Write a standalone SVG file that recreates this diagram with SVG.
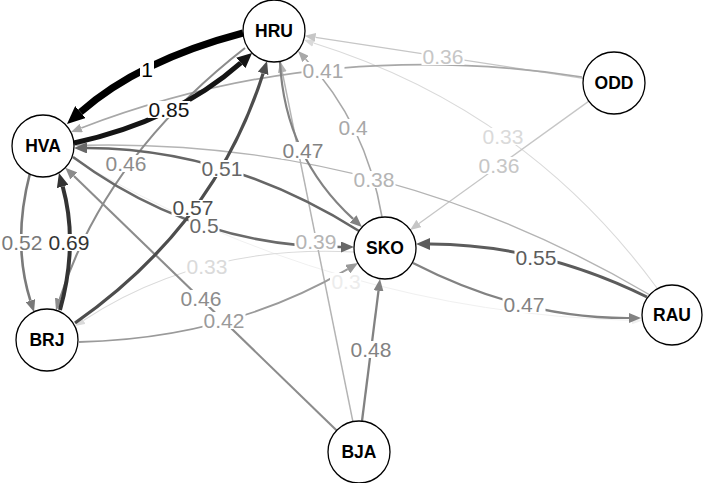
<svg xmlns="http://www.w3.org/2000/svg" width="709" height="483" viewBox="0 0 709 483">
<style>
.e{fill:none;stroke-linecap:butt}
.lbl{font-family:"Liberation Sans",Arial,sans-serif;font-size:21px;text-anchor:middle}
.bg{fill:#fff}
.node circle{fill:#fff;stroke:#000;stroke-width:1.3}
.node text{font-family:"Liberation Sans",Arial,sans-serif;font-size:17.5px;font-weight:bold;text-anchor:middle;fill:#000}
</style>
<defs>
<marker id="a1" markerUnits="userSpaceOnUse" markerWidth="18" markerHeight="16" refX="0" refY="8" orient="auto"><path d="M0,0L18,8L0,16z" fill="#000"/></marker>
<marker id="a085" markerUnits="userSpaceOnUse" markerWidth="15" markerHeight="14" refX="0" refY="7" orient="auto"><path d="M0,0L15,7L0,14z" fill="#141414"/></marker>
<marker id="a069" markerUnits="userSpaceOnUse" markerWidth="14" markerHeight="12" refX="0" refY="6" orient="auto"><path d="M0,0L14,6L0,12z" fill="#333"/></marker>
<marker id="a057" markerUnits="userSpaceOnUse" markerWidth="13" markerHeight="11" refX="0" refY="5.5" orient="auto"><path d="M0,0L13,5.5L0,11z" fill="#4d4d4d"/></marker>
<marker id="a055" markerUnits="userSpaceOnUse" markerWidth="14" markerHeight="12" refX="0" refY="6" orient="auto"><path d="M0,0L14,6L0,12z" fill="#5c5c5c"/></marker>
<marker id="a051" markerUnits="userSpaceOnUse" markerWidth="13" markerHeight="11" refX="0" refY="5.5" orient="auto"><path d="M0,0L13,5.5L0,11z" fill="#686868"/></marker>
<marker id="a052" markerUnits="userSpaceOnUse" markerWidth="12" markerHeight="10" refX="0" refY="5" orient="auto"><path d="M0,0L12,5L0,10z" fill="#7a7a7a"/></marker>
<marker id="a047" markerUnits="userSpaceOnUse" markerWidth="12" markerHeight="10" refX="0" refY="5" orient="auto"><path d="M0,0L12,5L0,10z" fill="#828282"/></marker>
<marker id="a046" markerUnits="userSpaceOnUse" markerWidth="12" markerHeight="10" refX="0" refY="5" orient="auto"><path d="M0,0L12,5L0,10z" fill="#8c8c8c"/></marker>
<marker id="a042" markerUnits="userSpaceOnUse" markerWidth="12" markerHeight="10" refX="0" refY="5" orient="auto"><path d="M0,0L12,5L0,10z" fill="#9a9a9a"/></marker>
<marker id="a041" markerUnits="userSpaceOnUse" markerWidth="11" markerHeight="9" refX="0" refY="4.5" orient="auto"><path d="M0,0L11,4.5L0,9z" fill="#a8a8a8"/></marker>
<marker id="a039" markerUnits="userSpaceOnUse" markerWidth="11" markerHeight="9" refX="0" refY="4.5" orient="auto"><path d="M0,0L11,4.5L0,9z" fill="#b4b4b4"/></marker>
<marker id="a036" markerUnits="userSpaceOnUse" markerWidth="11" markerHeight="9" refX="0" refY="4.5" orient="auto"><path d="M0,0L11,4.5L0,9z" fill="#c6c6c6"/></marker>
<marker id="a033" markerUnits="userSpaceOnUse" markerWidth="10" markerHeight="8" refX="0" refY="4" orient="auto"><path d="M0,0L10,4L0,8z" fill="#dadada"/></marker>
<marker id="a030" markerUnits="userSpaceOnUse" markerWidth="10" markerHeight="8" refX="0" refY="4" orient="auto"><path d="M0,0L10,4L0,8z" fill="#f0f0f0"/></marker>
</defs>
<rect width="709" height="483" fill="#fff"/>
<g id="connectors">
<path class="e" d="M72,158 Q335,313 632,320.4" stroke="#f0f0f0" stroke-width="1" marker-end="url(#a030)"/>
<path class="e" d="M354,252 Q199.5,244 83.4,320.5" stroke="#dadada" stroke-width="1.1" marker-end="url(#a033)"/>
<path class="e" d="M657,288 Q525.5,109 313.5,43" stroke="#dadada" stroke-width="1.1" marker-end="url(#a033)"/>
<path class="e" d="M588.9,101.1 L419,223.5" stroke="#c6c6c6" stroke-width="1.3" marker-end="url(#a036)"/>
<path class="e" d="M583.4,78.3 L315.5,37.4" stroke="#c6c6c6" stroke-width="1.3" marker-end="url(#a036)"/>
<path class="e" d="M650,295 Q385.5,139 86,145.2" stroke="#b4b4b4" stroke-width="1.4" marker-end="url(#a039)"/>
<path class="e" d="M352.9,421.6 L282.3,72.2" stroke="#b4b4b4" stroke-width="1.5" marker-end="url(#a039)"/>
<path class="e" d="M582,77 Q319.5,36.5 81.3,128" stroke="#a8a8a8" stroke-width="1.7" marker-end="url(#a041)"/>
<path class="e" d="M382,217 Q366,123 305.6,59" stroke="#a8a8a8" stroke-width="1.6" marker-end="url(#a041)"/>
<path class="e" d="M79,342 Q229.5,338.5 347.7,269.1" stroke="#9a9a9a" stroke-width="1.8" marker-end="url(#a042)"/>
<path class="e" d="M336.7,430.4 L73.9,176" stroke="#8c8c8c" stroke-width="2.1" marker-end="url(#a046)"/>
<path class="e" d="M245,48 Q105.5,156.75 59.7,299.1" stroke="#8c8c8c" stroke-width="2.1" marker-end="url(#a046)"/>
<path class="e" d="M362,421 L378.5,290.9" stroke="#828282" stroke-width="2.3" marker-end="url(#a047)"/>
<path class="e" d="M413,263 Q521,318.5 629,318" stroke="#828282" stroke-width="2.2" marker-end="url(#a047)"/>
<path class="e" d="M280,62 Q285,156.5 353.1,218.9" stroke="#828282" stroke-width="2.2" marker-end="url(#a047)"/>
<path class="e" d="M30,173 Q12,242.5 30.4,300.6" stroke="#7a7a7a" stroke-width="2.6" marker-end="url(#a052)"/>
<path class="e" d="M73,157 Q194.5,247 341,247" stroke="#6a6a6a" stroke-width="2.5" marker-end="url(#a051)"/>
<path class="e" d="M359,231 Q227.5,148.5 87,148" stroke="#666" stroke-width="2.6" marker-end="url(#a051)"/>
<path class="e" d="M647,297 Q540.5,244.5 430,244" stroke="#5c5c5c" stroke-width="3" marker-end="url(#a055)"/>
<path class="e" d="M75,323 Q215,225 263.1,73.4" stroke="#4d4d4d" stroke-width="3.2" marker-end="url(#a057)"/>
<path class="e" d="M60,310 Q78.5,243.5 62.7,186.5" stroke="#333" stroke-width="4" marker-end="url(#a069)"/>
<path class="e" d="M74,143 Q175,121 240.8,62.9" stroke="#141414" stroke-width="5" marker-end="url(#a085)"/>
<path class="e" d="M243,33 Q139,60.5 80.5,112.1" stroke="#000" stroke-width="7" marker-end="url(#a1)"/>
<g id="edge-labels">
<rect class="bg" x="330" y="273" width="31" height="17"/><text class="lbl" x="346" y="289" fill="#ececec">0.3</text>
<rect class="bg" x="185.5" y="258" width="43" height="17"/><text class="lbl" x="207" y="274" fill="#dadada">0.33</text>
<rect class="bg" x="481.5" y="128" width="43" height="17"/><text class="lbl" x="503" y="144" fill="#dadada">0.33</text>
<rect class="bg" x="421.5" y="48" width="43" height="17"/><text class="lbl" x="443" y="64" fill="#c6c6c6">0.36</text>
<rect class="bg" x="477.5" y="157" width="43" height="17"/><text class="lbl" x="499" y="173" fill="#c6c6c6">0.36</text>
<rect class="bg" x="352.5" y="171" width="43" height="17"/><text class="lbl" x="374" y="187" fill="#b4b4b4">0.38</text>
<rect class="bg" x="294.5" y="233" width="43" height="17"/><text class="lbl" x="316" y="249" fill="#b4b4b4">0.39</text>
<rect class="bg" x="301.5" y="62" width="43" height="17"/><text class="lbl" x="323" y="78" fill="#a8a8a8">0.41</text>
<rect class="bg" x="337.5" y="119" width="31" height="17"/><text class="lbl" x="353" y="135" fill="#a8a8a8">0.4</text>
<rect class="bg" x="202.5" y="312" width="43" height="17"/><text class="lbl" x="224" y="328" fill="#9a9a9a">0.42</text>
<rect class="bg" x="179.5" y="290" width="43" height="17"/><text class="lbl" x="201" y="306" fill="#8c8c8c">0.46</text>
<rect class="bg" x="104.5" y="155" width="43" height="17"/><text class="lbl" x="126" y="171" fill="#8c8c8c">0.46</text>
<rect class="bg" x="349.5" y="341" width="43" height="17"/><text class="lbl" x="371" y="357" fill="#828282">0.48</text>
<rect class="bg" x="502.5" y="296" width="43" height="17"/><text class="lbl" x="524" y="312" fill="#828282">0.47</text>
<rect class="bg" x="281.5" y="142" width="43" height="17"/><text class="lbl" x="303" y="158" fill="#828282">0.47</text>
<rect class="bg" x="0.5" y="234" width="43" height="17"/><text class="lbl" x="22" y="250" fill="#7a7a7a">0.52</text>
<rect class="bg" x="188.5" y="218" width="31" height="16"/><text class="lbl" x="204" y="233" fill="#6a6a6a">0.5</text>
<rect class="bg" x="200.5" y="160" width="43" height="17"/><text class="lbl" x="222" y="176" fill="#666">0.51</text>
<rect class="bg" x="514.5" y="249" width="43" height="17"/><text class="lbl" x="536" y="265" fill="#5c5c5c">0.55</text>
<rect class="bg" x="171.5" y="200" width="43" height="16"/><text class="lbl" x="193" y="215" fill="#4d4d4d">0.57</text>
<rect class="bg" x="47.5" y="234" width="43" height="17"/><text class="lbl" x="69" y="250" fill="#333">0.69</text>
<rect class="bg" x="147.5" y="101" width="43" height="17"/><text class="lbl" x="169" y="117" fill="#141414">0.85</text>
<rect class="bg" x="140" y="61" width="14" height="17"/><text class="lbl" x="147" y="77" fill="#000">1</text>
</g>
</g>
<g id="node-HRU" class="node"><circle cx="274" cy="31" r="31"/><text x="274" y="37">HRU</text></g>
<g id="node-HVA" class="node"><circle cx="43" cy="146" r="31"/><text x="43" y="152">HVA</text></g>
<g id="node-ODD" class="node"><circle cx="614" cy="83" r="31"/><text x="614" y="89">ODD</text></g>
<g id="node-SKO" class="node"><circle cx="385" cy="248" r="31"/><text x="385" y="254">SKO</text></g>
<g id="node-RAU" class="node"><circle cx="672" cy="315" r="30"/><text x="672" y="321">RAU</text></g>
<g id="node-BRJ" class="node"><circle cx="47" cy="340" r="31"/><text x="47" y="346">BRJ</text></g>
<g id="node-BJA" class="node"><circle cx="359" cy="452" r="31"/><text x="359" y="458">BJA</text></g>
</svg>
